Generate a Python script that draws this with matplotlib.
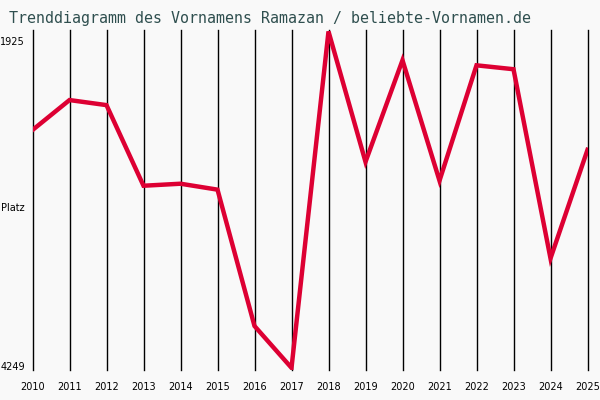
import matplotlib.pyplot as plt

years = list(range(2010, 2026))
ranks = [2606, 2399, 2434, 2991, 2977, 3018, 3960, 4249,
         1925, 2826, 2124, 2956, 2159, 2186, 3493, 2743]
top_rank = 1925
bottom_rank = 4249

bg = '#f9f9f9'
fig = plt.figure(figsize=(6, 4), dpi=100, facecolor=bg)
ax = fig.add_axes([32.5 / 600, 30 / 400, 555 / 600, 340 / 400])
ax.set_facecolor(bg)

for y in years:
    ax.axvline(y, color='black', lw=1.0, clip_on=False)

ax.plot(years, ranks, color='#dd0033', lw=3.2, solid_joinstyle='miter', zorder=3)

ax.set_xlim(years[0], years[-1])
ax.set_ylim(bottom_rank + 15, top_rank - 10)
for s in ax.spines.values():
    s.set_visible(False)
ax.set_xticks([])
ax.set_yticks([])

# Jahreszahlen unter den Linien
for y in years:
    ax.text(y, -0.05, str(y), transform=ax.get_xaxis_transform(),
            ha='center', va='center', fontsize=7, family='DejaVu Sans')

fig.text(25 / 600, 1 - 42 / 400, str(top_rank), ha='right', va='center', fontsize=7)
fig.text(25 / 600, 1 - 367 / 400, str(bottom_rank), ha='right', va='center', fontsize=7)
fig.text(1 / 600, 1 - 208 / 400, 'Platz', ha='left', va='center', fontsize=7)

fig.text(9 / 600, 1 - 18 / 400, 'Trenddiagramm des Vornamens Ramazan / beliebte-Vornamen.de',
         ha='left', va='center', fontsize=10.8, family='DejaVu Sans Mono', color='#2f4f4f')

fig.savefig('out.png', dpi=100, facecolor=bg)
